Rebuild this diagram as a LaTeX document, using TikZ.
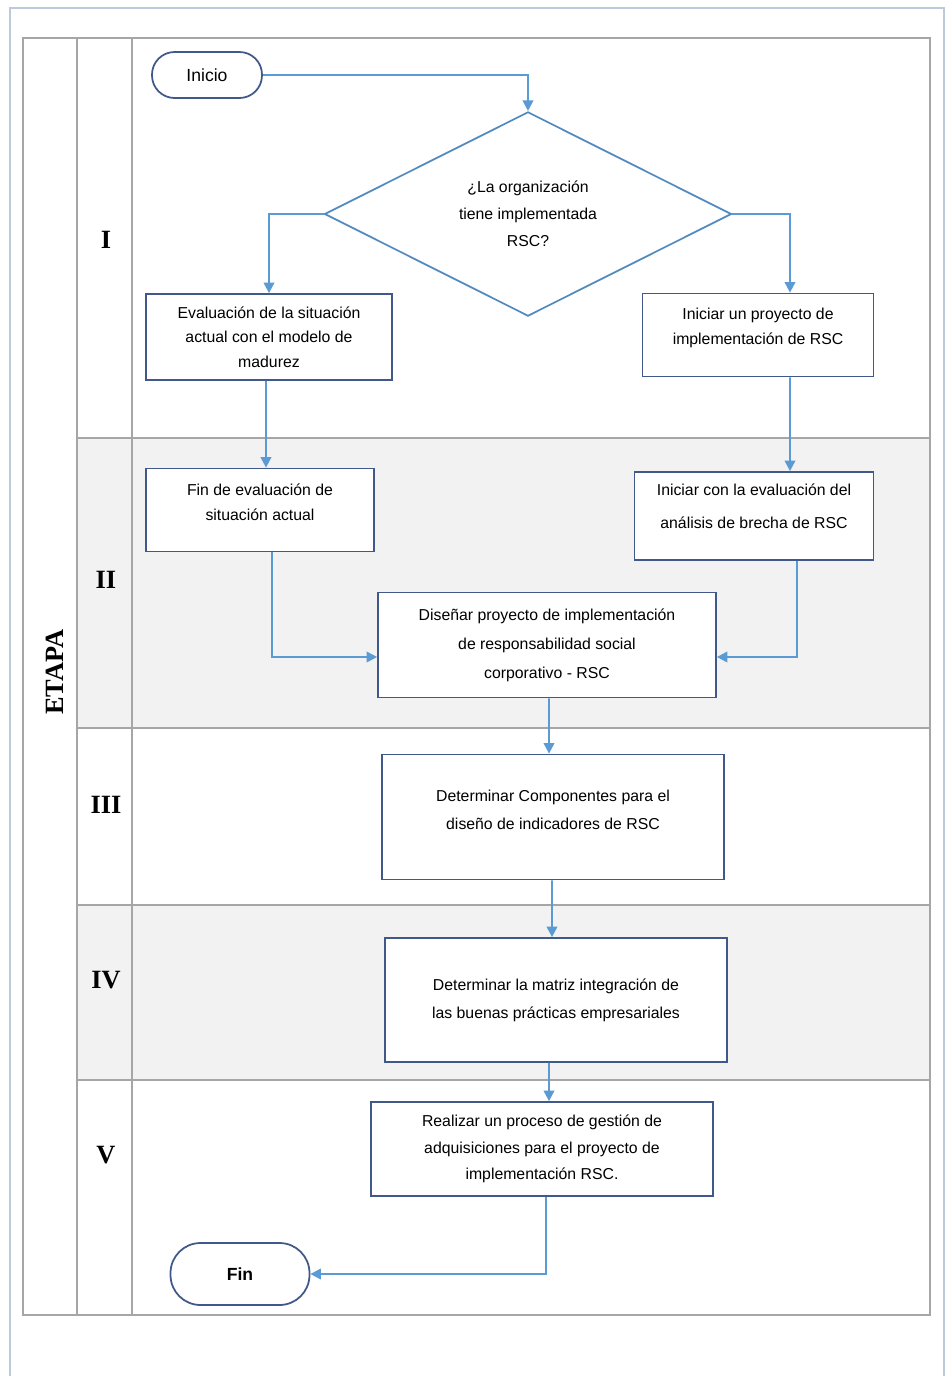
\documentclass[tikz,border=0pt]{standalone}
\usepackage{fontspec}
\setmainfont{Liberation Sans}
\newfontfamily\romano{Liberation Serif}
\usetikzlibrary{arrows.meta,positioning,shapes.geometric,calc}

\definecolor{borde}{HTML}{41598A}
\definecolor{azulflecha}{HTML}{5B9BD5}
\definecolor{rejilla}{HTML}{A6A6A6}
\definecolor{sombra}{HTML}{F2F2F2}
\definecolor{marco}{HTML}{BCCADB}

\begin{document}
\begin{tikzpicture}[
    x=0.02cm, y=-0.02cm,
    caja/.style={
        rectangle,
        draw=borde,
        line width=1pt,
        fill=white,
        align=center,
        inner sep=0pt,
        font=\fontsize{9}{14}\selectfont
    },
    terminal/.style={
        rectangle,
        rounded corners=0.45cm,
        draw=borde,
        line width=1pt,
        fill=white,
        align=center,
        inner sep=0pt,
        font=\fontsize{10}{12}\selectfont
    },
    decision/.style={
        diamond,
        draw=azulflecha!90!black,
        line width=1pt,
        fill=white,
        align=center,
        inner sep=0pt,
        minimum width=8.14cm,
        minimum height=3.96cm,
        font=\fontsize{9}{15.5}\selectfont
    },
    etapa/.style={font=\romano\bfseries\fontsize{15}{18}\selectfont},
    rejillalinea/.style={draw=rejilla, line width=0.8pt},
    flecha/.style={-{Triangle[length=6pt,width=6pt]}, draw=azulflecha, line width=1.1pt}
]
\useasboundingbox (0,0) rectangle (951,1376);

% MARCO Y TABLA DE ETAPAS
\fill[white] (0,0) rectangle (951,1376);
\draw[marco, line width=1pt] (10,1376) -- (10,8) -- (944,8) -- (944,1376);
\fill[sombra] (77,438) rectangle (930,728);
\fill[sombra] (77,905) rectangle (930,1080);
\draw[rejillalinea] (23,38) rectangle (930,1315);
\draw[rejillalinea] (77,38) -- (77,1315);
\draw[rejillalinea] (132,38) -- (132,1315);
\foreach \fila in {438,728,905,1080}
    \draw[rejillalinea] (77,\fila) -- (930,\fila);

\node[etapa, rotate=90] (etiquetaEtapa) at (55,672) {ETAPA};
\node[etapa] (etapaI) at (106,240) {I};
\node[etapa] (etapaII) at (106,580) {II};
\node[etapa] (etapaIII) at (106,805) {III};
\node[etapa] (etapaIV) at (106,980) {IV};
\node[etapa] (etapaV) at (106,1155) {V};

% ETAPA I
\node[terminal, minimum width=2.2cm, minimum height=0.92cm] (inicio) at (207,75) {Inicio};
\node[decision] (pregunta) at (528,214) {¿La organización\\tiene implementada\\RSC?};
\node[caja, minimum width=4.92cm, minimum height=1.72cm] (evaluacion) at (269,337) {Evaluación de la situación\\actual con el modelo de\\madurez};
\node[caja, minimum width=4.62cm, minimum height=1.66cm] (iniciarProyecto) at (758,335) {Iniciar un proyecto de\\implementación de RSC\\[-3.8pt]\mbox{}};

% ETAPA II
\node[caja, minimum width=4.56cm, minimum height=1.66cm] (finEvaluacion) at (260,510) {Fin de evaluación de\\situación actual\\[-5pt]\mbox{}};
\node[caja, minimum width=4.78cm, minimum height=1.76cm, font=\fontsize{9}{19}\selectfont] (iniciarBrecha) at (754,516) {Iniciar con la evaluación del\\análisis de brecha de RSC\\[-7.6pt]\mbox{}};
\node[caja, minimum width=6.76cm, minimum height=2.1cm, font=\fontsize{9}{16.5}\selectfont] (disenar) at (547,645) {Diseñar proyecto de implementación\\de responsabilidad social\\corporativo - RSC};

% ETAPAS III, IV Y V
\node[caja, minimum width=6.84cm, minimum height=2.5cm, font=\fontsize{9}{16}\selectfont] (componentes) at (553,817) {Determinar Componentes para el\\diseño de indicadores de RSC\\[-8pt]\mbox{}};
\node[caja, minimum width=6.84cm, minimum height=2.48cm, font=\fontsize{9}{16}\selectfont] (matriz) at (556,1000) {Determinar la matriz integración de\\las buenas prácticas empresariales};
\node[caja, minimum width=6.84cm, minimum height=1.88cm, font=\fontsize{9}{15}\selectfont] (adquisiciones) at (542,1149) {Realizar un proceso de gestión de\\adquisiciones para el proyecto de\\implementación RSC.};
\node[terminal, minimum width=2.78cm, minimum height=1.24cm, rounded corners=0.6cm, font=\bfseries\fontsize{10}{12}\selectfont] (fin) at (240,1274) {Fin};

% --- CONEXIONES ---
\draw[flecha] (inicio.east) -| (pregunta.north);
\draw[flecha] (pregunta.west) -| (evaluacion.north);
\draw[flecha] (pregunta.east) -| ([xshift=0.64cm]iniciarProyecto.north);
\draw[flecha] ([xshift=-0.06cm]evaluacion.south) -- ([xshift=0.12cm]finEvaluacion.north);
\draw[flecha] ([xshift=0.64cm]iniciarProyecto.south) -- ([xshift=0.72cm]iniciarBrecha.north);
\draw[flecha] ([xshift=0.24cm]finEvaluacion.south) |- ([yshift=-0.24cm]disenar.west);
\draw[flecha] ([xshift=0.86cm]iniciarBrecha.south) |- ([yshift=-0.24cm]disenar.east);
\draw[flecha] ([xshift=0.04cm]disenar.south) -- ([xshift=-0.08cm]componentes.north);
\draw[flecha] ([xshift=-0.02cm]componentes.south) -- ([xshift=-0.08cm]matriz.north);
\draw[flecha] ([xshift=-0.14cm]matriz.south) -- ([xshift=0.14cm]adquisiciones.north);
\draw[flecha] ([xshift=0.08cm]adquisiciones.south) |- (fin.east);

\end{tikzpicture}
\end{document}
